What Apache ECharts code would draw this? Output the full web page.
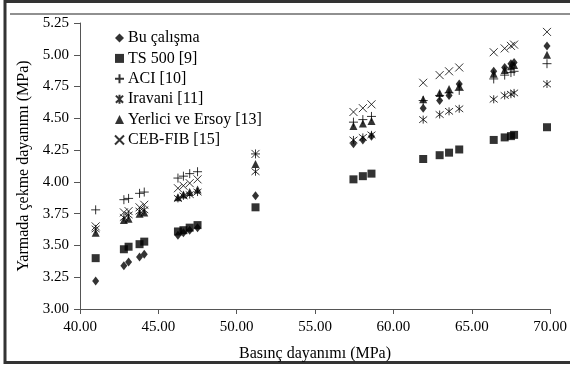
<!DOCTYPE html>
<html>
<head>
<meta charset="utf-8">
<script src="https://cdn.jsdelivr.net/npm/echarts@6/dist/echarts.min.js"></script>
<style>
  html, body { margin: 0; padding: 0; background: #fff; }
  #chart { width: 570px; height: 367px; }
</style>
</head>
<body>
<div id="chart"></div>
<script>
// basınç dayanımı (MPa)
var fc = [41.0, 42.8, 43.1, 43.8, 44.1, 46.25, 46.6, 47.0, 47.5, 51.2, 57.45, 58.05, 58.6, 61.9, 62.95, 63.55, 64.2, 66.4, 67.1, 67.5, 67.7, 69.8];

// yarmada çekme dayanımı (MPa)
var buCalisma = [3.22, 3.34, 3.37, 3.41, 3.43, 3.58, 3.60, 3.62, 3.64, 3.89, 4.30, 4.33, 4.36, 4.58, 4.64, 4.68, 4.77, 4.87, 4.90, 4.93, 4.94, 5.07];
var ts500 = [3.40, 3.47, 3.49, 3.51, 3.53, 3.61, 3.62, 3.64, 3.66, 3.80, 4.02, 4.045, 4.065, 4.18, 4.21, 4.23, 4.255, 4.33, 4.35, 4.36, 4.37, 4.43];
var aci = [3.78, 3.86, 3.87, 3.91, 3.92, 4.03, 4.045, 4.065, 4.08, 4.22, 4.47, 4.49, 4.515, 4.64, 4.68, 4.70, 4.72, 4.81, 4.84, 4.86, 4.87, 4.93];
var iravani = [3.63, 3.72, 3.74, 3.77, 3.78, 3.87, 3.89, 3.90, 3.92, 4.08, 4.33, 4.35, 4.37, 4.49, 4.53, 4.555, 4.575, 4.65, 4.68, 4.69, 4.70, 4.77];
var yerlici = [3.60, 3.70, 3.71, 3.75, 3.76, 3.88, 3.90, 3.92, 3.94, 4.14, 4.44, 4.46, 4.48, 4.65, 4.70, 4.73, 4.755, 4.85, 4.88, 4.91, 4.92, 5.00];
var cebFib = [3.65, 3.76, 3.77, 3.80, 3.82, 3.95, 3.97, 3.99, 4.02, 4.22, 4.55, 4.58, 4.61, 4.78, 4.84, 4.87, 4.90, 5.02, 5.05, 5.07, 5.08, 5.18];

var seriesNames = ['Bu çalışma', 'TS 500 [9]', 'ACI [10]', 'Iravani [11]', 'Yerlici ve Ersoy [13]', 'CEB-FIB [15]'];

var FONT = 'Liberation Serif, Times New Roman, serif';

var PLUS = 'path://M0,5L10,5M5,0L5,10';
var CROSS = 'path://M0,0L10,10M10,0L0,10';
var STAR = 'path://M1,1L9,9M9,1L1,9M5,0L5,10';

function pairs(ys) {
    return fc.map(function (x, i) { return [x, ys[i]]; });
}

var chart = echarts.init(document.getElementById('chart'));

function scatter(name, ys, symbol, size, stroked) {
    return {
        name: name,
        type: 'scatter',
        data: pairs(ys),
        symbol: symbol,
        symbolSize: size,
        itemStyle: stroked ? {
            color: '#000',
            borderColor: '#000',
            borderWidth: 1
        } : {
            color: '#000'
        },
        emphasis: { disabled: true }
    };
}

function getOption() {
    return {
        animation: false,
        textStyle: { fontFamily: FONT },
        graphic: [
            {
                type: 'rect',
                shape: { x: 5, y: 1.5, width: 600, height: 361 },
                style: { fill: 'none', stroke: '#333', lineWidth: 3 },
                silent: true
            },
            {
                type: 'line',
                shape: { x1: 10, y1: 14, x2: 570, y2: 14 },
                style: { stroke: '#222', lineWidth: 1.2 },
                silent: true
            }
        ],
        legend: {
            orient: 'vertical',
            left: 109,
            top: 25,
            itemWidth: 9,
            itemHeight: 9,
            itemGap: 4.4,
            data: seriesNames,
            textStyle: {
                fontFamily: FONT,
                fontSize: 16,
                color: '#000',
                padding: [0, 0, 0, -1]
            }
        },
        grid: {
            left: 80,
            right: 17,
            top: 23,
            bottom: 57
        },
        xAxis: {
            type: 'value',
            min: 40,
            max: 70,
            interval: 5,
            name: 'Basınç dayanımı (MPa)',
            nameLocation: 'middle',
            nameGap: 37,
            nameTextStyle: { fontFamily: FONT, fontSize: 16, color: '#000' },
            axisLine: { show: true, lineStyle: { color: '#555', width: 1 } },
            axisTick: { show: true, length: 5, lineStyle: { color: '#555' } },
            axisLabel: {
                margin: 11,
                fontFamily: FONT,
                fontSize: 15,
                color: '#000',
                formatter: function (v) { return v.toFixed(2); }
            },
            splitLine: { show: false }
        },
        yAxis: {
            type: 'value',
            min: 3,
            max: 5.25,
            interval: 0.25,
            name: 'Yarmada çekme dayanımı (MPa)',
            nameLocation: 'middle',
            nameGap: 48,
            nameTextStyle: { fontFamily: FONT, fontSize: 16, color: '#000' },
            axisLine: { show: true, lineStyle: { color: '#555', width: 1 } },
            axisTick: { show: true, length: 6, lineStyle: { color: '#555' } },
            axisLabel: {
                margin: 11,
                fontFamily: FONT,
                fontSize: 15,
                color: '#000',
                formatter: function (v) { return v.toFixed(2); }
            },
            splitLine: { show: false }
        },
        series: [
            scatter(seriesNames[0], buCalisma, 'diamond', [7, 9], false),
            scatter(seriesNames[1], ts500, 'rect', 8, false),
            scatter(seriesNames[2], aci, PLUS, 9, true),
            scatter(seriesNames[3], iravani, STAR, 8, true),
            scatter(seriesNames[4], yerlici, 'triangle', 8, false),
            scatter(seriesNames[5], cebFib, CROSS, 8, true)
        ]
    };
}

chart.setOption(getOption());
</script>
</body>
</html>
